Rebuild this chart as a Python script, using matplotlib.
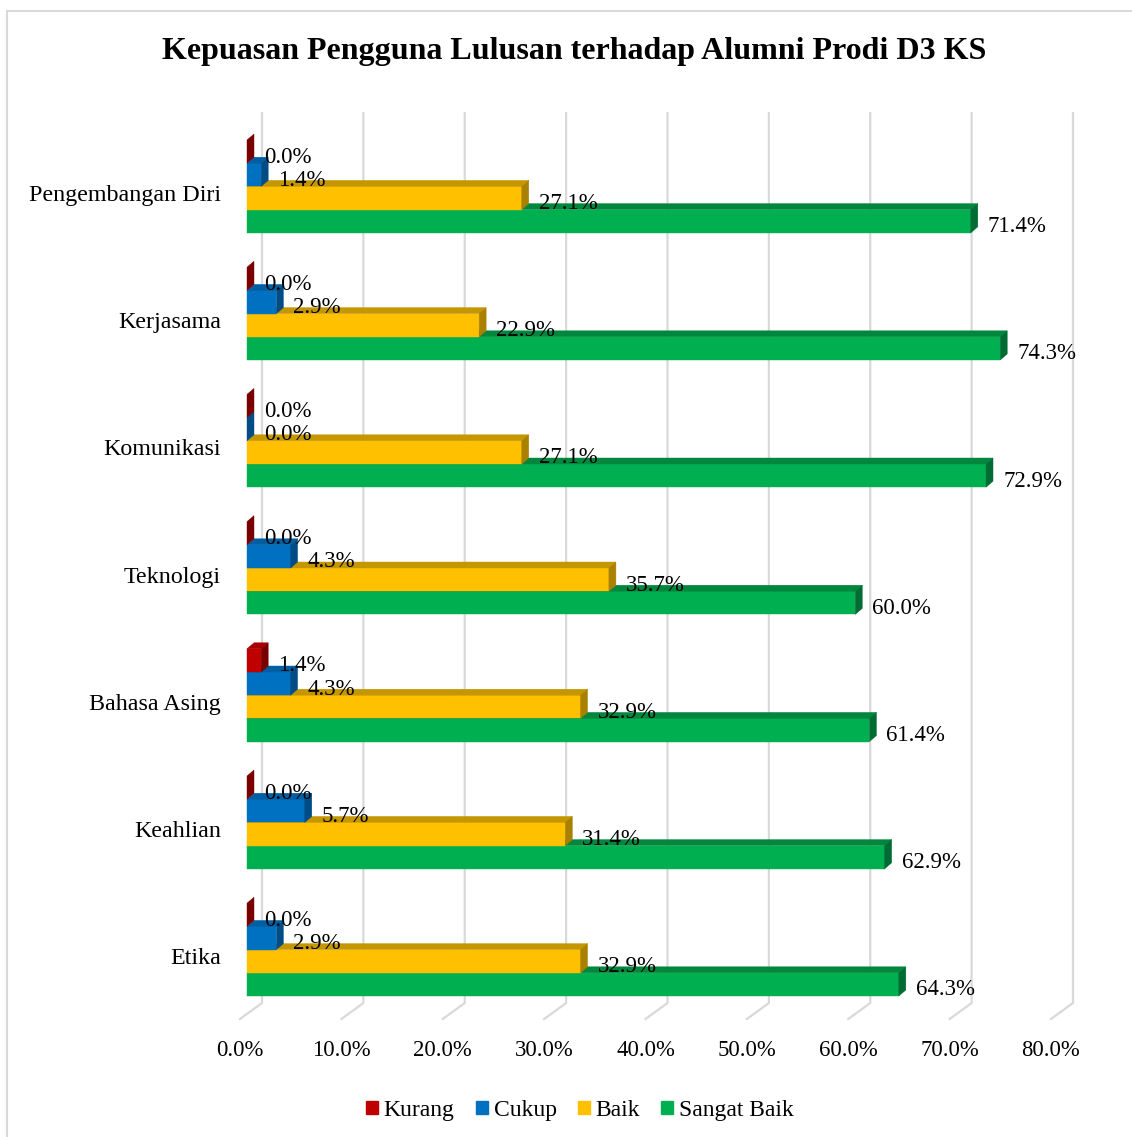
import matplotlib
matplotlib.use("Agg")
import matplotlib.pyplot as plt
from matplotlib.patches import Polygon, Rectangle, Patch

categories = ["Pengembangan Diri", "Kerjasama", "Komunikasi", "Teknologi",
              "Bahasa Asing", "Keahlian", "Etika"]
series_names = ["Kurang", "Cukup", "Baik", "Sangat Baik"]
kurang = [0.0, 0.0, 0.0, 0.0, 1.4, 0.0, 0.0]
cukup = [1.4, 2.9, 0.0, 4.3, 4.3, 5.7, 2.9]
baik = [27.1, 22.9, 27.1, 35.7, 32.9, 31.4, 32.9]
sangat_baik = [71.4, 74.3, 72.9, 60.0, 61.4, 62.9, 64.3]
xticks = [0, 10, 20, 30, 40, 50, 60, 70, 80]
title = "Kepuasan Pengguna Lulusan terhadap Alumni Prodi D3 KS"

series = [kurang, cukup, baik, sangat_baik]
front_c = ["#C00000", "#0070C0", "#FFC000", "#00B050"]
top_c = ["#A80000", "#005FA3", "#C49600", "#00873D"]
side_c = ["#7A0000", "#004C86", "#A98000", "#006B33"]

plt.rcParams['font.family'] = ['Liberation Serif', 'DejaVu Serif']

W, H = 1132, 1137
fig = plt.figure(figsize=(W / 100, H / 100), dpi=100)

# axes geometry (pixels)
px_left, px_right = 247, 1058
px_top, px_bot = 113, 1019
ax = fig.add_axes([px_left / W, 1 - px_bot / H, (px_right - px_left) / W, (px_bot - px_top) / H])
xmax = 80
ppx = (px_right - px_left) / xmax          # pixels per percent
ppy = 127.2                                # pixels per category
y0 = 193
ax.set_xlim(0, xmax)
ax.set_ylim((px_bot - y0) / ppy, (px_top - y0) / ppy)
ax.axis("off")

tshift = 2.5 / ppy   # small downward nudge for text centering

# depth offsets (data units)
bdx, bdy = 7 / ppx, -6 / ppy        # bar depth
fdx_front, fdx_back = -7 / ppx, 15 / ppx   # floor front / back offsets
back_bottom = (1003 - y0) / ppy
front_bottom = (px_bot - y0) / ppy

# gridlines (back wall + floor)
for v in xticks:
    ax.plot([v + fdx_back, v + fdx_back, v + fdx_front],
            [(px_top - y0) / ppy, back_bottom, front_bottom],
            color="#D9D9D9", lw=1.6, clip_on=False, zorder=1, solid_joinstyle="miter")
    ax.text(v + fdx_front, (1048 - y0) / ppy + tshift, f"{v:.1f}%", ha="center", va="center",
            fontsize=16.4, color="black")

bh = 23.2 / ppy
offsets = [-53 / ppy + k * bh for k in range(4)]

z = 10
for i, cat in enumerate(categories):
    ax.text(-26 / ppx, i + tshift, cat, ha="right", va="center", fontsize=17.3, color="black")
    for k in [3, 2, 1, 0]:
        v = series[k][i]
        yt = i + offsets[k]
        yb = yt + bh
        if v > 0:
            ax.add_patch(Polygon([(0, yt), (v, yt), (v, yb), (0, yb)], closed=True,
                                 facecolor=front_c[k], edgecolor=front_c[k], lw=0.3,
                                 clip_on=False, zorder=z))
            ax.add_patch(Polygon([(0, yt), (v, yt), (v + bdx, yt + bdy), (bdx, yt + bdy)],
                                 closed=True, facecolor=top_c[k], edgecolor=top_c[k], lw=0.3,
                                 clip_on=False, zorder=z))
        ax.add_patch(Polygon([(v, yt), (v + bdx, yt + bdy), (v + bdx, yb + bdy), (v, yb)],
                             closed=True, facecolor=side_c[k], edgecolor=side_c[k], lw=0.3,
                             clip_on=False, zorder=z))
        z += 1
    for k in range(4):
        v = series[k][i]
        yc = i + offsets[k] + bh / 2 + 3 / ppy + tshift
        ax.text(v + 17 / ppx, yc, f"{v:.1f}%", ha="left", va="center",
                fontsize=16.5, color="black", zorder=100)

fig.text(574 / W, 1 - 52 / H, title, ha="center", va="center", fontsize=23,
         fontweight="bold", color="black")

handles = [Patch(facecolor=c, edgecolor=c) for c in front_c]
fig.legend(handles, series_names, loc="center", bbox_to_anchor=(580 / W, 1 - 1110.5 / H),
           ncol=4, frameon=False, fontsize=17.0, handlelength=0.5, handleheight=0.5,
           handletextpad=0.25, columnspacing=0.9)

fig.add_artist(Rectangle((7 / W, -0.05), 1.1, 1 - 11 / H + 0.05, transform=fig.transFigure,
                         fill=False, edgecolor="#D9D9D9", lw=1.5))

fig.savefig("out.png", dpi=100, facecolor="white")
